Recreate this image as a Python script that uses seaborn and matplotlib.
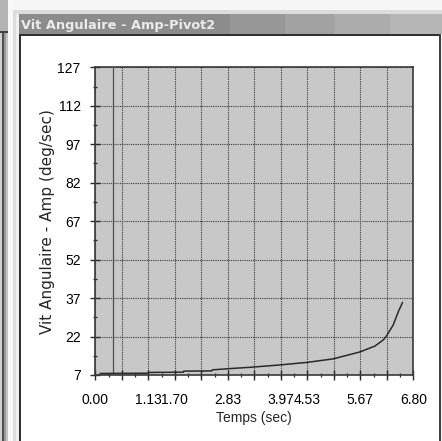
import matplotlib
matplotlib.use("Agg")
import matplotlib.pyplot as plt
from matplotlib.patches import Rectangle
from matplotlib.ticker import AutoMinorLocator, FixedLocator, FixedFormatter
import seaborn as sns
import pandas as pd

temps_sec = [0.10, 1.13, 1.14, 1.88, 1.89, 2.49, 2.50, 2.88, 3.31, 3.93, 4.52,
             5.09, 5.66, 5.98, 6.16, 6.23, 6.37, 6.48, 6.57]
vit_amp = [7.6, 7.7, 8.0, 8.1, 8.5, 8.6, 9.0, 9.5, 10.0, 10.9, 11.9,
           13.3, 16.0, 18.3, 20.7, 22.3, 26.5, 31.7, 35.3]
curseur_x = 0.385

x_ticks = [0.00, 0.567, 1.133, 1.70, 2.267, 2.833, 3.40, 3.967, 4.533, 5.10, 5.667, 6.233, 6.80]
x_labels = ["0.00", "", "1.13", "1.70", "", "2.83", "", "3.97", "4.53", "", "5.67", "", "6.80"]
y_ticks = [7, 22, 37, 52, 67, 82, 97, 112, 127]

titre_fenetre = "Vit Angulaire - Amp-Pivot2"
x_titre = "Temps (sec)"
y_titre = "Vit Angulaire - Amp (deg/sec)"

df = pd.DataFrame({"Temps": temps_sec, "Vit": vit_amp})

sns.set_style("ticks")
plt.rcParams["font.family"] = ["Liberation Sans", "DejaVu Sans"]

W, H = 442, 441
fig = plt.figure(figsize=(W / 100, H / 100), dpi=100)
fig.patch.set_facecolor("white")


def rect_px(x0, y0, x1, y1, color, z=-5):
    fig.patches.append(Rectangle((x0 / W, 1 - y1 / H), (x1 - x0) / W, (y1 - y0) / H,
                                 transform=fig.transFigure, facecolor=color,
                                 edgecolor="none", zorder=z))


# --- cadre de fenetre (capture d'ecran) ---
rect_px(0, 0, W, H, "#f6f6f6", -10)
# fenetre voisine a gauche
rect_px(0, 0, 9, 32, "#b4b4b4")
rect_px(0, 31, 8, 33, "#404040")
rect_px(0, 33, 2, H, "#d0d0d0")
rect_px(2, 33, 4, H, "#505050")
rect_px(4, 33, 6, H, "#9a9a9a")
rect_px(6, 33, 8, H, "#c4c4c4")
rect_px(8, 0, 13, H, "#f8f8f8")
# bordure fenetre principale
rect_px(13, 10, W, 14, "#dcdcdc")
rect_px(13, 10, 16, H, "#dcdcdc")
rect_px(16, 14, 19, H, "#f0f0f0")
# barre de titre
for x0, x1, c in [(19, 230, "#8c8c8c"), (230, 285, "#979797"), (285, 335, "#a2a2a2"),
                  (335, 390, "#acacac"), (390, W, "#b6b6b6")]:
    rect_px(x0, 14, x1, 34, c)
# zone blanche
rect_px(19, 34, 441, H, "white")
rect_px(19, 34, 441, 36, "#303030", -4)
rect_px(19, 34, 21, H, "#303030", -4)
rect_px(439, 34, 441, H, "#404040", -4)
fig.text(21 / W, 1 - 28.5 / H, titre_fenetre, fontsize=9.3, fontweight="bold",
         family="DejaVu Sans", color="#ececec", va="baseline", ha="left")

# --- graphique ---
ax = fig.add_axes([95.3 / W, 1 - 375 / H, 318 / W, 307.7 / H])
ax.set_facecolor("#c8c8c8")

sns.lineplot(data=df, x="Temps", y="Vit", ax=ax, color="#2a2a2a", linewidth=1.1,
             estimator=None, zorder=4)
ax.axvline(curseur_x, color="#505050", linewidth=0.9, zorder=3)

ax.set_xlim(0, 6.80)
ax.set_ylim(7, 127)
ax.xaxis.set_major_locator(FixedLocator(x_ticks))
ax.xaxis.set_major_formatter(FixedFormatter(x_labels))
ax.set_yticks(y_ticks)
ax.xaxis.set_minor_locator(AutoMinorLocator(2))
ax.yaxis.set_minor_locator(AutoMinorLocator(2))

ax.grid(True, which="major", color="#383838", linestyle=(0, (1, 1)), linewidth=0.8)
ax.set_axisbelow(True)

for s in ax.spines.values():
    s.set_color("#3a3a3a")
    s.set_linewidth(1.2)

ax.tick_params(which="major", direction="inout", length=7, width=1.0,
               color="#2a2a2a", labelsize=10, labelcolor="black")
ax.tick_params(axis="x", which="major", pad=9.5)
ax.tick_params(axis="y", which="major", pad=7)
ax.tick_params(which="minor", direction="inout", length=3.5, width=0.9, color="#2a2a2a")

ax.set_xlabel(x_titre, fontsize=10, labelpad=2.5)
ax.set_ylabel(y_titre, fontsize=11, family="DejaVu Sans", labelpad=2)

fig.savefig("out.png", dpi=100)
